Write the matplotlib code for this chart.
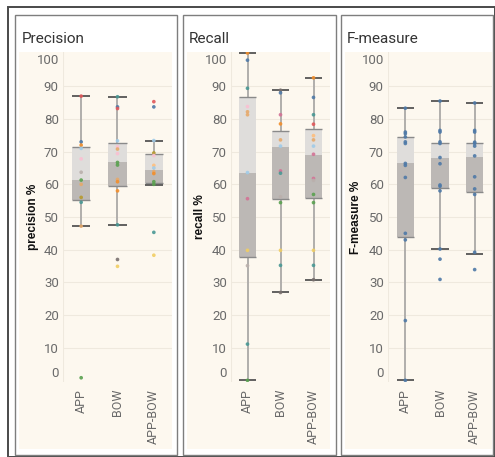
import matplotlib
matplotlib.use("Agg")
import matplotlib.pyplot as plt
from matplotlib.patches import Rectangle

plt.rcParams['font.family'] = ['Roboto', 'DejaVu Sans']

# ---------------- data ----------------
categories = ["APP", "BOW", "APP-BOW"]
panel_titles = ["Precision", "Recall", "F-measure"]
axis_labels = ["precision %", "recall %", "F-measure %"]
y_ticks = [0, 10, 20, 30, 40, 50, 60, 70, 80, 90, 100]

# box statistics per panel: [APP, BOW, APP-BOW]
prec_q1 = [55.2, 59.5, 60.3]
prec_med = [61.3, 66.8, 64.3]
prec_q3 = [71.5, 72.6, 69.3]
prec_lo = [47.2, 47.6, 59.9]
prec_hi = [87.0, 86.8, 73.4]

rec_q1 = [37.7, 55.4, 55.7]
rec_med = [63.6, 71.3, 69.0]
rec_q3 = [86.6, 76.3, 76.9]
rec_lo = [0.0, 26.9, 30.8]
rec_hi = [100.2, 88.8, 92.6]

f_q1 = [43.9, 58.9, 57.8]
f_med = [66.4, 68.2, 68.5]
f_q3 = [74.6, 72.5, 72.5]
f_lo = [0.0, 40.2, 38.8]
f_hi = [83.3, 85.5, 84.9]

# individual points
prec_app = [87.0, 73.0, 72.0, 71.0, 67.8, 63.7, 61.3, 60.0, 56.0, 54.5, 47.2, 0.8]
prec_bow = [86.8, 83.7, 83.2, 73.3, 71.5, 70.8, 69.4, 66.7, 65.9, 61.5, 60.8, 58.0, 47.6, 37.0, 34.9]
prec_appbow = [85.3, 83.7, 73.4, 69.6, 68.8, 65.8, 65.0, 63.9, 63.3, 60.8, 60.0, 45.3, 38.3]

rec_app = [100.2, 98.0, 89.4, 83.8, 82.2, 81.3, 63.6, 55.6, 39.8, 35.1, 11.1, 0.0]
rec_bow = [88.8, 88.0, 81.3, 78.5, 73.6, 71.7, 64.1, 63.4, 56.2, 54.4, 39.8, 35.2, 26.9]
rec_appbow = [92.6, 86.6, 81.3, 78.4, 74.9, 73.6, 71.7, 69.2, 61.8, 61.2, 56.9, 54.4, 39.8, 35.2, 30.8]

f_app = [83.3, 76.0, 75.5, 74.5, 73.0, 72.5, 66.4, 65.8, 62.1, 45.0, 43.0, 18.3, 0.0]
f_bow = [85.5, 76.5, 76.0, 73.0, 72.5, 68.2, 66.3, 59.8, 59.4, 58.0, 40.2, 37.1, 30.9]
f_appbow = [84.9, 76.5, 76.0, 72.9, 72.5, 71.7, 68.7, 62.3, 58.6, 56.9, 39.2, 33.9]

# ---------------- colours (style) ----------------
BLUE, LBLUE, ORANGE, LORANGE = "#4e79a7", "#a0cbe8", "#f28e2b", "#ffbe7d"
GREEN, OLIVE, YELLOW, TEAL = "#59a14f", "#b6992d", "#f1ce63", "#499894"
RED, GRAY, LGRAY, PINK, LPINK = "#e15759", "#79706e", "#bab0ac", "#d37295", "#fabfd2"
TAN = "#e6a96b"

prec_app_c = [RED, BLUE, ORANGE, LBLUE, LPINK, LGRAY, GREEN, TAN, OLIVE, TEAL, TAN, GREEN]
prec_bow_c = [TEAL, BLUE, RED, LBLUE, LPINK, TAN, LPINK, GREEN, GREEN, TAN, ORANGE, ORANGE, TEAL, GRAY, YELLOW]
prec_appbow_c = [RED, BLUE, LBLUE, OLIVE, LPINK, LORANGE, LBLUE, TAN, ORANGE, GREEN, GREEN, TEAL, YELLOW]
rec_app_c = [ORANGE, BLUE, TEAL, LPINK, TAN, TAN, LBLUE, PINK, YELLOW, LGRAY, TEAL, GREEN]
rec_bow_c = [GRAY, BLUE, PINK, ORANGE, TAN, LBLUE, PINK, TEAL, LGRAY, GREEN, YELLOW, TEAL, GRAY]
rec_appbow_c = [ORANGE, BLUE, TEAL, RED, LORANGE, TAN, LBLUE, PINK, PINK, LGRAY, GREEN, GREEN, YELLOW, TEAL, GRAY]

panels = [
    (prec_q1, prec_med, prec_q3, prec_lo, prec_hi,
     [prec_app, prec_bow, prec_appbow], [prec_app_c, prec_bow_c, prec_appbow_c]),
    (rec_q1, rec_med, rec_q3, rec_lo, rec_hi,
     [rec_app, rec_bow, rec_appbow], [rec_app_c, rec_bow_c, rec_appbow_c]),
    (f_q1, f_med, f_q3, f_lo, f_hi,
     [f_app, f_bow, f_appbow], [[BLUE] * len(f_app), [BLUE] * len(f_bow), [BLUE] * len(f_appbow)]),
]

# ---------------- layout (pixels) ----------------
W, H = 495, 457
fig = plt.figure(figsize=(W / 100, H / 100), dpi=100)
fig.patch.set_facecolor("white")


def frac_rect(x0, y0, x1, y1, **kw):
    return Rectangle((x0 / W, 1 - y1 / H), (x1 - x0) / W, (y1 - y0) / H,
                     transform=fig.transFigure, **kw)


# outer border
fig.add_artist(frac_rect(7.5, 6.5, 494.5, 456.5, fill=False, edgecolor="#4a4a4a", lw=1.4))

panel_border = [(14, 14, 177, 455), (182, 14, 336, 455), (340, 14, 493, 455)]
cream = [(19, 52, 172, 449), (187, 52, 330, 449), (345, 52, 492, 449)]
data_x = [(63, 172), (231, 330), (388, 492)]
title_x = [22, 189, 347]
ylabel_x = [33, 200, 356]
plot_top, plot_bot = 52, 382

CREAM = "#fdf8ef"

for i, (q1, med, q3, lo, hi, pts, cols) in enumerate(panels):
    bx = panel_border[i]
    fig.add_artist(frac_rect(bx[0] + 0.5, bx[1] + 0.5, bx[2] - 0.5, bx[3] - 0.5,
                             fill=False, edgecolor="#7e7e7e", lw=1.0))
    cr = cream[i]
    fig.add_artist(frac_rect(*cr, facecolor=CREAM, edgecolor="none", zorder=0))

    x0, x1 = data_x[i]
    ax = fig.add_axes([x0 / W, 1 - plot_bot / H, (x1 - x0) / W, (plot_bot - plot_top) / H])
    ax.set_facecolor("none")
    for s in ax.spines.values():
        s.set_visible(False)
    ax.set_xlim(-0.5, 2.5)
    ax.set_ylim(-0.5, 100.5)

    # grid
    for t in y_ticks[1:-1]:
        ax.axhline(t, color="#efe9de", lw=0.8, zorder=0)
    ax.axvline(-0.5, color="#efe9de", lw=0.8, zorder=0)

    xs = list(range(len(categories)))
    bw = 0.5
    # whiskers
    ax.vlines(xs, lo, hi, color="#b0aeac", lw=1.4, zorder=1)
    # two-tone boxes
    ax.bar(xs, [m - a for m, a in zip(med, q1)], bottom=q1, width=bw,
           color="#bcb8b5", edgecolor="none", zorder=2)
    ax.bar(xs, [b - m for b, m in zip(q3, med)], bottom=med, width=bw,
           color="#dfdddb", edgecolor="none", zorder=2)
    ax.hlines(q1, [x - bw / 2 for x in xs], [x + bw / 2 for x in xs], color="#8a8a8a", lw=1.0, zorder=3)
    ax.hlines(q3, [x - bw / 2 for x in xs], [x + bw / 2 for x in xs], color="#8a8a8a", lw=1.0, zorder=3)
    # caps
    ax.hlines(lo, [x - bw / 2 for x in xs], [x + bw / 2 for x in xs], color="#555555", lw=1.3, zorder=3)
    ax.hlines(hi, [x - bw / 2 for x in xs], [x + bw / 2 for x in xs], color="#555555", lw=1.3, zorder=3)

    # points
    for j, (vals, cc) in enumerate(zip(pts, cols)):
        ax.scatter([j] * len(vals), vals, s=7, c=cc, linewidths=0, alpha=0.9, zorder=4)

    ax.set_yticks(y_ticks)
    ax.set_yticklabels([str(t) for t in y_ticks])
    ax.set_xticks(xs)
    ax.set_xticklabels(categories, rotation=90)
    ax.tick_params(axis="both", length=0, colors="#6a6a6a", labelsize=9)
    ax.tick_params(axis="y", pad=3, labelsize=9.5)
    ax.tick_params(axis="x", pad=5)
    ticks = ax.yaxis.get_major_ticks()
    ticks[0].label1.set_va("bottom")
    ticks[-1].label1.set_va("top")

    fig.text(title_x[i] / W, 1 - 43 / H, panel_titles[i], fontsize=11, color="#333333",
             ha="left", va="baseline")
    fig.text(ylabel_x[i] / W, 1 - 217 / H, axis_labels[i], fontsize=8.5, fontweight="bold",
             color="#111111", rotation=90, ha="center", va="center",
             family=["Liberation Sans", "DejaVu Sans"])

fig.savefig("out.png", dpi=100)
